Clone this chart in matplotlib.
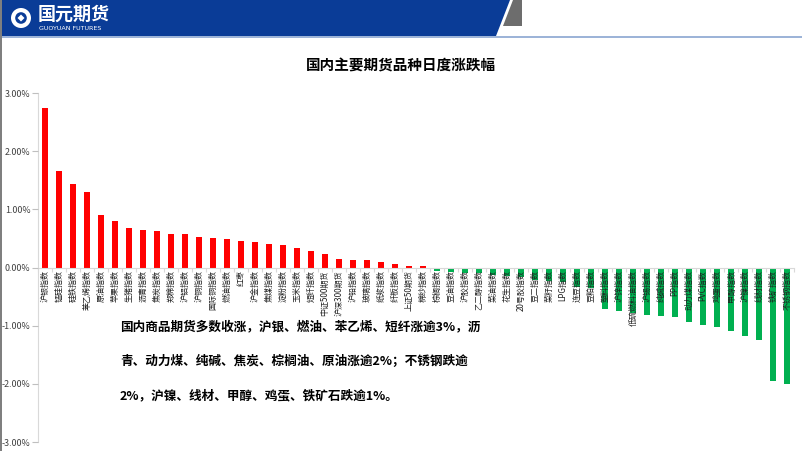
import matplotlib
matplotlib.use("Agg")
import matplotlib.pyplot as plt
from matplotlib.patches import Polygon, Circle, Rectangle
from matplotlib.ticker import FuncFormatter, FixedLocator
import numpy as np

plt.rcParams['font.family'] = ['Noto Sans CJK SC', 'DejaVu Sans']

categories = [
    "沪银指数", "锰硅指数", "硅铁指数", "苯乙烯指数", "原油指数", "苹果指数", "生猪指数", "沥青指数",
    "焦炭指数", "郑棉指数", "沪铝指数", "沪铜指数", "国际铜指数", "燃油指数", "红枣", "沪金指数",
    "焦煤指数", "淀粉指数", "玉米指数", "短纤指数", "中证500期货", "沪深300期货", "沪铅指数", "玻璃指数",
    "纸浆指数", "纤板指数", "上证50期货", "棉纱指数", "棕榈指数", "豆油指数", "沪胶指数", "乙二醇指数",
    "菜油指数", "花生指数", "20号胶指数", "豆二指数", "菜籽指数", "LPG指数", "连豆指数", "豆粕指数",
    "塑料指数", "沪锌指数", "低硫燃料油指数", "沪锡指数", "纯碱指数", "PP指数", "动力煤指数", "PVC指数",
    "鸡蛋指数", "甲醇指数", "沪镍指数", "线材指数", "铁矿指数", "不锈钢指数",
]
values = [
    2.75, 1.66, 1.44, 1.29, 0.91, 0.80, 0.68, 0.64,
    0.63, 0.57, 0.57, 0.52, 0.51, 0.49, 0.45, 0.44,
    0.41, 0.38, 0.34, 0.28, 0.24, 0.14, 0.13, 0.13,
    0.09, 0.06, 0.03, 0.02, -0.06, -0.07, -0.09, -0.09,
    -0.13, -0.15, -0.17, -0.21, -0.23, -0.25, -0.33, -0.36,
    -0.72, -0.75, -0.78, -0.81, -0.83, -0.85, -0.94, -0.99,
    -1.03, -1.09, -1.18, -1.25, -1.95, -2.01,
]
y_ticks = [-3, -2, -1, 0, 1, 2, 3]
title = "国内主要期货品种日度涨跌幅"
note_lines = [
    "国内商品期货多数收涨，沪银、燃油、苯乙烯、短纤涨逾3%，沥",
    "青、动力煤、纯碱、焦炭、棕榈油、原油涨逾2%；不锈钢跌逾",
    "2%，沪镍、线材、甲醇、鸡蛋、铁矿石跌逾1%。",
]

W, H = 802, 451
fig = plt.figure(figsize=(W / 100, H / 100), dpi=100)

# background overlay (pixel coords)
bg = fig.add_axes([0, 0, 1, 1], zorder=3)
bg.set_xlim(0, W)
bg.set_ylim(H, 0)
bg.axis('off')
bg.patch.set_alpha(0)
bg.add_patch(Polygon([(0, 0), (510, 0), (496, 36), (0, 36)], closed=True, color='#0a3c97', lw=0))
bg.add_patch(Polygon([(513, 0), (522, 0), (522, 26), (503, 26)], closed=True, color='#6d6d6d', lw=0))
bg.add_patch(Rectangle((0, 36), W, 1.6, color='#9db4d8', lw=0))
bg.add_patch(Rectangle((0, 0), 2.0, H, color='#7f7f7f', lw=0))
bg.add_patch(Circle((21, 18), 10, color='white', lw=0))
bg.add_patch(Circle((21, 18), 5.8, color='#0a3c97', lw=0))
bg.add_patch(Polygon([(17.5, 18), (21, 14.5), (24.5, 18), (21, 21.5)], closed=True, color='white', lw=0))
bg.text(38, 14, "国元期货", color='white', fontsize=13, fontweight='bold', va='center', ha='left')
bg.text(39, 28.5, "GUOYUAN FUTURES", color='white', fontsize=4.6, va='center', ha='left',
        family=['DejaVu Sans'])
bg.text(401, 66, title, fontsize=10.5, fontweight='bold', ha='center', va='center', color='#000000')

# main chart
left_px, right_px, top_px, bot_px = 38, 794, 93, 442
ax = fig.add_axes([left_px / W, 1 - bot_px / H, (right_px - left_px) / W, (bot_px - top_px) / H],
                  zorder=1)
ax.patch.set_alpha(0)
ax.set_axisbelow(False)
x = np.arange(len(categories))
colors = ['#ff0000' if v >= 0 else '#00b050' for v in values]
ax.bar(x, values, width=0.43, color=colors, zorder=2)
ax.set_xlim(-0.5, len(categories) - 0.5)
ax.set_ylim(-3, 3)
ax.set_yticks(y_ticks)
ax.yaxis.set_major_formatter(FuncFormatter(lambda v, p: f"{v:.2f}%"))
ax.tick_params(axis='y', labelsize=6.4, labelcolor='#404040', color='#bfbfbf', length=4, width=0.8, pad=1.5)

ax.spines['top'].set_visible(False)
ax.spines['right'].set_visible(False)
ax.spines['left'].set_color('#d9d9d9')
ax.spines['bottom'].set_position(('data', 0))
ax.spines['bottom'].set_color('#d9d9d9')
ax.set_xticks(x)
ax.set_xticklabels(categories, rotation=90, fontsize=5.8, color='#202020')
ax.tick_params(axis='x', which='major', length=0, pad=2)
ax.xaxis.set_minor_locator(FixedLocator(np.arange(-0.5, len(categories), 1.0)))
ax.tick_params(axis='x', which='minor', length=3, color='#d9d9d9', width=0.8)

# note text
ys = [327, 361, 396]
for line, yy in zip(note_lines, ys):
    bg.text(120, yy, line, fontsize=9.1, fontweight='bold', ha='left', va='center', color='#000000',
            zorder=6)

fig.savefig("out.png", dpi=100)
